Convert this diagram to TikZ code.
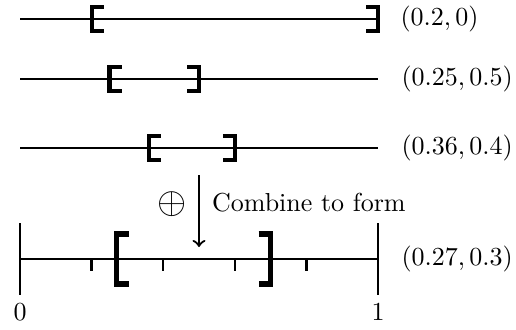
\documentclass[tikz,border=0pt]{standalone}
\begin{document}
\begin{tikzpicture}[x=0.3846pt,y=-0.3846pt,
  axisline/.style={line width=0.85pt},
  brk/.style={line width=1.6pt},
  bigbrk/.style={line width=2.1pt},
  lab/.style={inner sep=0pt, anchor=west}]
\useasboundingbox (0,0) rectangle (516,329);
% bracket helpers: value, y, half height, style
\newcommand\LBrk[4]{\draw[#4] ({20+358*#1+12},{#2-#3}) -- ({20+358*#1},{#2-#3}) -- ({20+358*#1},{#2+#3}) -- ({20+358*#1+12},{#2+#3});}
\newcommand\RBrk[4]{\draw[#4] ({20+358*#1-12},{#2-#3}) -- ({20+358*#1},{#2-#3}) -- ({20+358*#1},{#2+#3}) -- ({20+358*#1-12},{#2+#3});}
% line 1
\coordinate (l1a) at (20,19); \coordinate (l1b) at (378,19);
\draw[axisline] (l1a) -- (l1b);
\LBrk{0.2}{19}{12}{brk}
\RBrk{1.0}{19}{12}{brk}
\node[lab] (t1) at (400,19) {$(0.2,0)$};
% line 2
\coordinate (l2a) at (20,79); \coordinate (l2b) at (378,79);
\draw[axisline] (l2a) -- (l2b);
\LBrk{0.25}{79}{12}{brk}
\RBrk{0.5}{79}{12}{brk}
\node[lab] (t2) at (401,79) {$(0.25,0.5)$};
% line 3
\coordinate (l3a) at (20,148); \coordinate (l3b) at (378,148);
\draw[axisline] (l3a) -- (l3b);
\LBrk{0.36}{148}{12}{brk}
\RBrk{0.6}{148}{12}{brk}
\node[lab] (t3) at (401,148) {$(0.36,0.4)$};
% arrow
\coordinate (arrS) at (199,175); \coordinate (arrE) at (199,247);
\draw[axisline,->] (arrS) -- (arrE);
\node[inner sep=0pt] (op) at (172,204) {\fontsize{14.4}{16}\selectfont$\oplus$};
\node[inner sep=0pt, anchor=base west] (comb) at (211.5,211) {Combine to form};
% axis
\coordinate (axa) at (20,259); \coordinate (axb) at (378,259);
\draw[axisline] (axa) -- (axb);
\draw[axisline] (20,223) -- (20,295);
\draw[axisline] (378,223) -- (378,295);
\foreach \v in {0.2,0.4,0.6,0.8} {\draw[axisline] ({20+358*\v},259) -- ({20+358*\v},271);}
\LBrk{0.27}{259}{25}{bigbrk}
\RBrk{0.7}{259}{25}{bigbrk}
\node[lab] (t4) at (401,259) {$(0.27,0.3)$};
\node[inner sep=0pt] (z0) at (20,312) {$0$};
\node[inner sep=0pt] (z1) at (378,312) {$1$};
\end{tikzpicture}
\end{document}
